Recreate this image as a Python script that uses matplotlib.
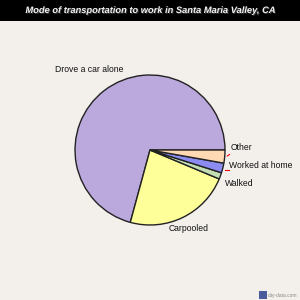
import matplotlib
matplotlib.use("Agg")
import matplotlib.pyplot as plt
import matplotlib.patheffects as pe
from matplotlib import font_manager

# share of commuters (percent)
modes = ["Drove a car alone", "Carpooled", "Walked", "Worked at home", "Other"]
shares = [70.7, 22.9, 1.4, 2.1, 2.8]
colors = ["#bba8dc", "#ffff99", "#c3deb5", "#8c8cf0", "#ffd9b3"]

title = "Mode of transportation to work in Santa Maria Valley, CA"
bg = "#f3f0ec"

# narrow face for the labels if it is there
names = {f.name for f in font_manager.fontManager.ttflist}
narrow = "Liberation Sans Narrow" if "Liberation Sans Narrow" in names else None

fig = plt.figure(figsize=(3, 3), dpi=100, facecolor=bg)
ax = fig.add_axes([0, 0, 1, 1])
ax.set_facecolor(bg)

wedges, _ = ax.pie(shares, colors=colors, startangle=0, counterclock=True,
                   radius=1.0, center=(0, 0),
                   wedgeprops=dict(edgecolor="#222222", linewidth=1.0))
# pie resets the limits, so set them afterwards
ax.set_xlim(-2, 2)
ax.set_ylim(-2, 2)
ax.set_aspect("equal")
ax.axis("off")

# black title bar
bar = plt.Rectangle((0, 0.931), 1, 0.069, transform=fig.transFigure,
                    facecolor="black", edgecolor="none")
fig.patches.append(bar)
fig.text(0.5, 0.965, title, ha="center", va="center", color="#f4f4f4",
         fontsize=6.7, fontweight="bold", fontstyle="italic",
         family="Liberation Sans",
         path_effects=[pe.withSimplePatchShadow(offset=(0.7, -0.7),
                                                shadow_rgbFace="#444444", alpha=0.8)])

if narrow:
    lab = dict(fontsize=7.2, family=narrow, color="#111111")
else:
    lab = dict(fontsize=6.2, family="Liberation Sans", color="#111111")
ax.text(-0.81, 1.07, modes[0], ha="center", va="center", **lab)
ax.text(0.51, -1.05, modes[1], ha="center", va="center", **lab)
ax.text(1.00, -0.44, modes[2], ha="left", va="center", **lab)
ax.text(1.05, -0.21, modes[3], ha="left", va="center", **lab)
ax.text(1.07, 0.04, modes[4], ha="left", va="center", **lab)

# little red leader ticks
ax.plot([1.03, 1.06], [-0.08, -0.06], color="red", lw=0.8)
ax.plot([1.00, 1.05], [-0.26, -0.26], color="red", lw=0.8)

# watermark
fig.text(0.892, 0.008, "city-data.com", ha="left", va="bottom",
         fontsize=3.5, color="#888888", family="Liberation Sans")
fig.patches.append(plt.Rectangle((0.863, 0.002), 0.027, 0.027,
                                 transform=fig.transFigure,
                                 facecolor="#4a5a9a", edgecolor="none"))

fig.savefig("out.png", dpi=100, facecolor=bg)
